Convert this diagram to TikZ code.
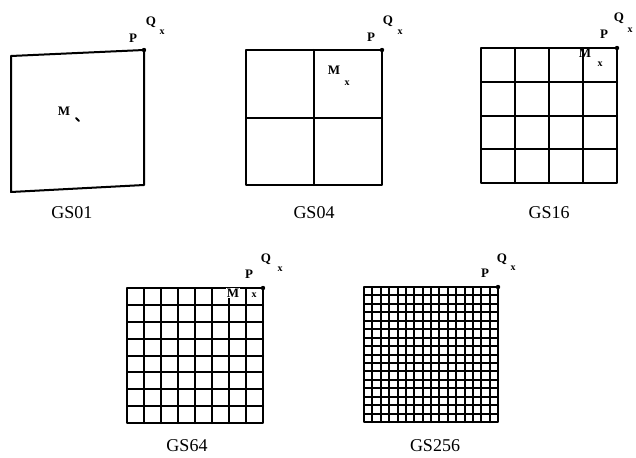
\documentclass[tikz,border=0pt]{standalone}
\usepackage{fontspec}
\setmainfont{Liberation Serif}
\usetikzlibrary{positioning}

\tikzset{
  gridline/.style={line width=2pt},
  finegrid/.style={line width=2pt},
  ptlabel/.style={anchor=center, inner sep=0pt, font=\fontsize{13}{15}\selectfont\bfseries},
  xmark/.style={anchor=center, inner sep=0pt, font=\fontsize{10}{11}\selectfont\bfseries},
  caption/.style={anchor=center, inner sep=0pt, font=\fontsize{18}{21}\selectfont},
}

\begin{document}
\begin{tikzpicture}[x=1pt, y=-1pt, line cap=round, line join=round]

  %% ==== GS01 : one cell, slightly skewed ====
  \draw[gridline] (11,56) -- (144,50) -- (144,185) -- (11,192) -- cycle;
  \fill (144,50) circle (2.2);
  \node[ptlabel] (P01) at (133,38) {P};
  \node[ptlabel] (Q01) at (151,22) {Q};
  \node[xmark]   (q01) at (162,32) {x};
  \node[ptlabel] (M01) at (64,111) {M};
  \draw[line width=1.8pt] (76,118) -- (79,121);   % M mark
  \node[caption] (L01) at (72,213) {GS01};

  %% ==== GS04 : 2 x 2 ====
  \draw[gridline] (246,50) rectangle (382,185);
  \draw[gridline] (314,50) -- (314,185);
  \draw[gridline] (246,118) -- (382,118);
  \fill (382,50) circle (2.2);
  \node[ptlabel] (P04) at (371,37) {P};
  \node[ptlabel] (Q04) at (388,21) {Q};
  \node[xmark]   (q04) at (400,32) {x};
  \node[ptlabel] (M04) at (334,70) {M};
  \node[xmark]   (m04) at (347,83) {x};
  \node[caption] (L04) at (314,213) {GS04};

  %% ==== GS16 : 4 x 4 ====
  \draw[gridline] (481,48) rectangle (617,183);
  \foreach \i in {1,2,3} {
    \pgfmathtruncatemacro\gx{481+round(\i*34)}
    \pgfmathtruncatemacro\gy{48+round(\i*33.75)}
    \draw[gridline] (\gx,48) -- (\gx,183);
    \draw[gridline] (481,\gy) -- (617,\gy);
  }
  \fill (617,48) circle (2.2);
  \node[ptlabel] (P16) at (604,34) {P};
  \node[ptlabel] (Q16) at (619,18) {Q};
  \node[xmark]   (q16) at (630,30) {x};
  \node[ptlabel] (M16) at (585,53) {M};
  \node[xmark]   (m16) at (600,64) {x};
  \node[caption] (L16) at (549,213) {GS16};

  %% ==== GS64 : 8 x 8 ====
  \draw[gridline] (127,288) rectangle (263,423);
  \foreach \i in {1,...,7} {
    \pgfmathtruncatemacro\gx{127+round(\i*17)}
    \pgfmathtruncatemacro\gy{288+round(\i*16.875)}
    \draw[gridline] (\gx,288) -- (\gx,423);
    \draw[gridline] (127,\gy) -- (263,\gy);
  }
  \fill (263,288) circle (2.2);
  \node[ptlabel] (P64) at (249,274) {P};
  \node[ptlabel] (Q64) at (266,259) {Q};
  \node[xmark]   (q64) at (280,269) {x};
  \node[ptlabel, fill=white, inner sep=0.5pt] (M64) at (233,293) {M};
  \node[xmark]   (m64) at (254,295) {x};
  \node[caption] (L64) at (187,446) {GS64};

  %% ==== GS256 : 16 x 16 ====
  \draw[gridline] (364,287) rectangle (498,422);
  \foreach \i in {1,...,15} {
    \pgfmathtruncatemacro\gx{364+round(\i*8.375)}
    \pgfmathtruncatemacro\gy{287+round(\i*8.4375)}
    \draw[finegrid] (\gx,287) -- (\gx,422);
    \draw[finegrid] (364,\gy) -- (498,\gy);
  }
  \fill (498,287) circle (2.2);
  \node[ptlabel] (P256) at (485,273) {P};
  \node[ptlabel] (Q256) at (502,259) {Q};
  \node[xmark]   (q256) at (513,268) {x};
  \node[caption] (L256) at (435,446) {GS256};

  % fix the canvas
  \pgfresetboundingbox
  \path[use as bounding box] (0,0) rectangle (636,457);
\end{tikzpicture}
\end{document}
